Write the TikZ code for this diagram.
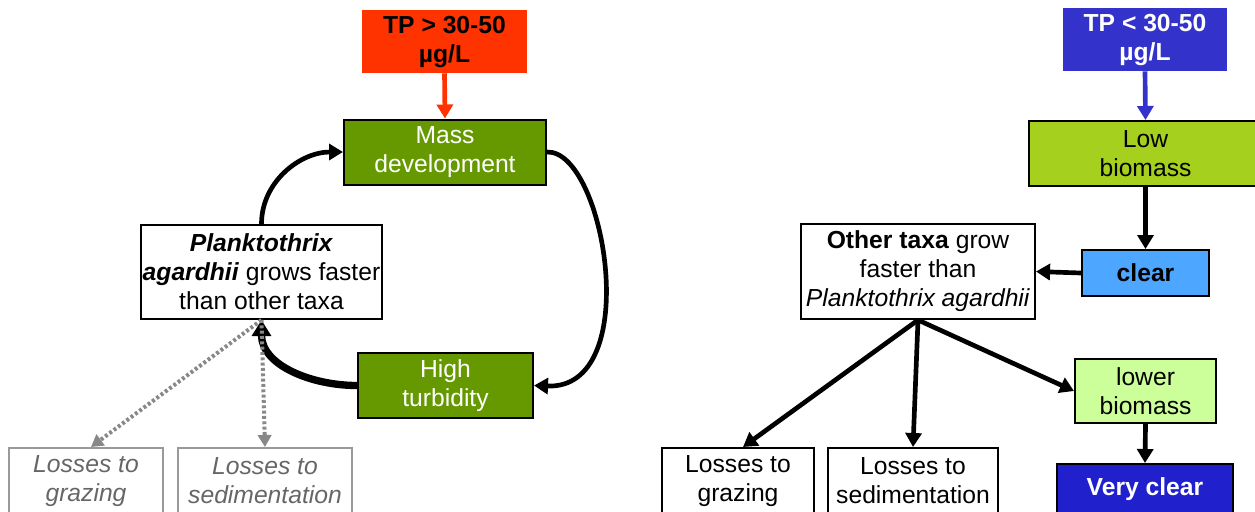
\documentclass[tikz,border=0pt]{standalone}
\usepackage{fontspec}
\setmainfont{Liberation Sans}
\usetikzlibrary{arrows.meta}
\definecolor{tpred}{HTML}{FF3300}
\definecolor{darkgreen}{HTML}{669900}
\definecolor{tpblue}{HTML}{3333CC}
\definecolor{lowgreen}{HTML}{A6D01E}
\definecolor{clearblue}{HTML}{4DA6FF}
\definecolor{palegreen}{HTML}{CCFF99}
\definecolor{deepblue}{HTML}{2020CC}
\definecolor{lossborder}{HTML}{999999}
\definecolor{losstext}{HTML}{666666}
\definecolor{dotgray}{HTML}{888888}
\begin{document}
\begin{tikzpicture}[x=0.75pt,y=-0.75pt,
  every node/.style={font=\fontsize{18.5}{21.75}\selectfont},
  box/.style={draw=black,line width=1.5pt,rectangle,inner sep=0pt,align=center},
  graybox/.style={draw=lossborder,line width=1.5pt,rectangle,inner sep=0pt,align=center,text=losstext,font=\fontsize{18.5}{21.75}\selectfont\itshape},
  arr/.style={line width=3.5pt,-{Triangle[length=10.5pt,width=12pt]}},
  thickarr/.style={line width=5.5pt,-{Triangle[length=12pt,width=14pt]}},
  dotarr/.style={draw=dotgray,line width=3pt,dash pattern=on 2.2pt off 1.8pt,-{Triangle[length=9pt,width=10pt]}},
]
\useasboundingbox (0,0) rectangle (1255,511);
\clip (0,0) rectangle (1255,511);

% ---------- left ----------
\node[rectangle,fill=tpred,inner sep=0pt,align=center,minimum width=165*0.75pt,minimum height=63*0.75pt,font=\fontsize{18.5}{21.75}\selectfont\bfseries] (tp1) at (444.5,41.5) {TP > 30-50\\µg/L};
\node[box,fill=darkgreen,text=white,minimum width=202*0.75pt,minimum height=65*0.75pt] (mass) at (445,152) {Mass\\development};
\node[box,fill=white,minimum width=241*0.75pt,minimum height=94*0.75pt] (plank) at (261.5,272) {\textbf{\textit{Planktothrix}}\\\textbf{\textit{agardhii}} grows faster\\than other taxa};
\node[box,fill=darkgreen,text=white,minimum width=175*0.75pt,minimum height=65*0.75pt] (high) at (445.5,385.5) {High\\turbidity};
\node[graybox,minimum width=154*0.75pt,minimum height=66*0.75pt] (lg1) at (86,481) {Losses to\\grazing};
\node[graybox,minimum width=174*0.75pt,minimum height=66*0.75pt] (ls1) at (265,481) {Losses to\\sedimentation};

\draw[arr,tpred] (tp1.south) -- (mass.north);
\draw[arr] (plank.north) to[out=90,in=180] (mass.west);
\draw[arr] (mass.east) .. controls (605,150) and (645,390) .. (high.east);
\draw[thickarr] (high.west) to[out=180,in=-90] (plank.south);
\draw[dotarr] (plank.south) -- ([xshift=5*0.75pt]lg1.north);
\draw[dotarr] (plank.south) -- (ls1.north);

% ---------- right ----------
\node[rectangle,fill=tpblue,text=white,inner sep=0pt,align=center,minimum width=164*0.75pt,minimum height=63*0.75pt,font=\fontsize{18.5}{21.75}\selectfont\bfseries] (tp2) at (1145,39.5) {TP < 30-50\\µg/L};
\node[box,fill=lowgreen,minimum width=233*0.75pt,minimum height=65*0.75pt] (low) at (1145.5,153.5) {Low\\biomass};
\node[box,fill=clearblue,minimum width=127*0.75pt,minimum height=46*0.75pt,font=\fontsize{18.5}{21.75}\selectfont\bfseries] (clear) at (1145.5,273) {clear};
\node[box,fill=white,minimum width=234*0.75pt,minimum height=95*0.75pt] (other) at (918,271.5) {\textbf{Other taxa} grow\\faster than\\\textit{Planktothrix agardhii}};
\node[box,fill=palegreen,minimum width=141*0.75pt,minimum height=64*0.75pt] (lower) at (1145.5,391) {lower\\biomass};
\node[box,fill=deepblue,text=white,minimum width=176*0.75pt,minimum height=50*0.75pt,font=\fontsize{18.5}{21.75}\selectfont\bfseries] (very) at (1145,489) {Very clear};
\node[box,minimum width=152*0.75pt,minimum height=66*0.75pt] (lg2) at (738,481) {Losses to\\grazing};
\node[box,minimum width=170*0.75pt,minimum height=66*0.75pt] (ls2) at (913,481) {Losses to\\sedimentation};

\draw[arr,tpblue] (tp2.south) -- (low.north);
\draw[arr] (low.south) -- (clear.north);
\draw[arr] (clear.west) -- (other.east);
\draw[arr] (other.south) -- ([xshift=5*0.75pt]lg2.north);
\draw[arr] (other.south) -- (ls2.north);
\draw[arr] (other.south) -- (lower.west);
\draw[arr] (lower.south) -- (very.north);
\end{tikzpicture}
\end{document}
